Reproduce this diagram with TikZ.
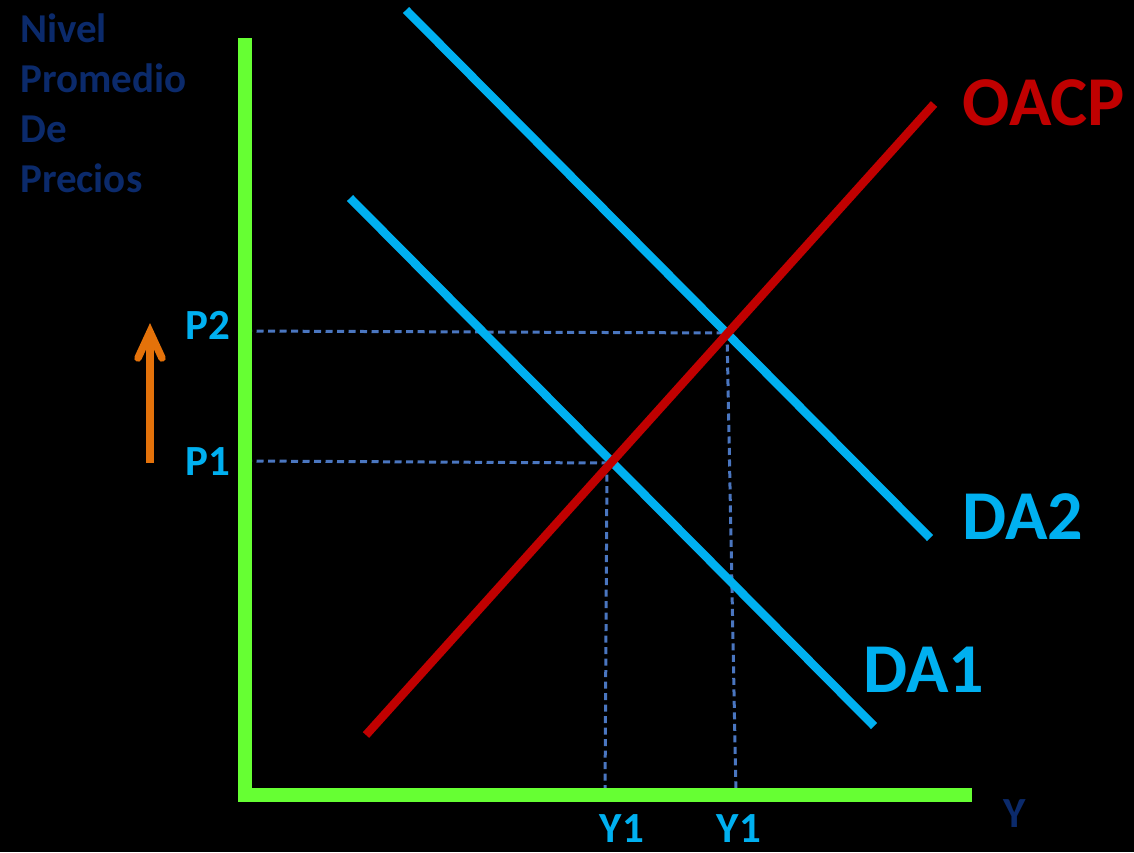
\documentclass[tikz,border=0pt]{standalone}
\usepackage{fontspec}
\setmainfont{Carlito}
\usetikzlibrary{arrows.meta}
\definecolor{axgreen}{HTML}{66FF33}
\definecolor{dacyan}{HTML}{00B0F0}
\definecolor{ored}{HTML}{C00000}
\definecolor{navy}{HTML}{0B2A6B}
\definecolor{dashblue}{HTML}{4A76C0}
\definecolor{arrorange}{HTML}{E4720A}
\begin{document}
\begin{tikzpicture}[x=1pt,y=-1pt,
  axis/.style={axgreen,line width=14pt},
  curve/.style={line width=8.5pt},
  guide/.style={dashblue,line width=3pt,dash pattern=on 7pt off 4.5pt},
  small/.style={font=\bfseries\fontsize{43}{50}\selectfont},
  big/.style={font=\bfseries\fontsize{70}{80}\selectfont},
  navylbl/.style={navy,font=\bfseries\fontsize{41}{50}\selectfont,anchor=base west,inner sep=0pt}]
\fill[black] (0,0) rectangle (1134,852);
\useasboundingbox (0,0) rectangle (1134,852);
% title
\node[navylbl] (t1) at (20,42) {Nivel};
\node[navylbl] (t2) at (20,92) {Promedio};
\node[navylbl] (t3) at (20,142) {De};
\node[navylbl] (t4) at (20,192) {Precios};
% coordinates
\coordinate (o) at (245,795);
\coordinate (ytop) at (245,38);
\coordinate (xend) at (972,795);
\coordinate (da2a) at (406,10);
\coordinate (da2b) at (930,538);
\coordinate (da1a) at (350,198);
\coordinate (da1b) at (874,726);
\coordinate (oa) at (366,735);
\coordinate (ob) at (934,104);
\coordinate (e2) at (727,333);
\coordinate (e1) at (607,463);
\coordinate (p2ax) at (245,331);
\coordinate (p1ax) at (245,461);
\coordinate (y1ax) at (605,795);
\coordinate (y2ax) at (736,795);
% guides
\draw[guide] (p2ax) -- (e2);
\draw[guide] (p1ax) -- (e1);
\draw[guide] (e1) -- (y1ax);
\draw[guide] (e2) -- (y2ax);
% curves
\draw[curve,dacyan] (da2a) -- (da2b);
\draw[curve,dacyan] (da1a) -- (da1b);
\draw[curve,ored] (oa) -- (ob);
% axes
\draw[axis] (o |- ytop) -- (245,802);
\draw[axis] (238,795) -- (xend);
% arrow
\coordinate (arrlo) at (150,463);
\coordinate (arrhi) at (150,332);
\coordinate (barbl) at (138,358);
\coordinate (barbr) at (162,358);
\draw[arrorange,line width=8pt] (arrlo) -- (arrhi);
\draw[arrorange,line width=7.5pt,line cap=round,line join=miter] (barbl) -- (arrhi) -- (barbr);
% labels
\node[small,dacyan] (lp2) at (208,325) {P2};
\node[small,dacyan] (lp1) at (208,462) {P1};
\node[small,dacyan] (ly1) at (622,829) {Y1};
\node[small,dacyan] (ly2) at (739,829) {Y1};
\node[small,navy] (ly) at (1015,814) {Y};
\node[big,ored] (loacp) at (1044,103) {OACP};
\node[big,dacyan] (lda2) at (1023,517) {DA2};
\node[big,dacyan] (lda1) at (924,670) {DA1};
\end{tikzpicture}
\end{document}
